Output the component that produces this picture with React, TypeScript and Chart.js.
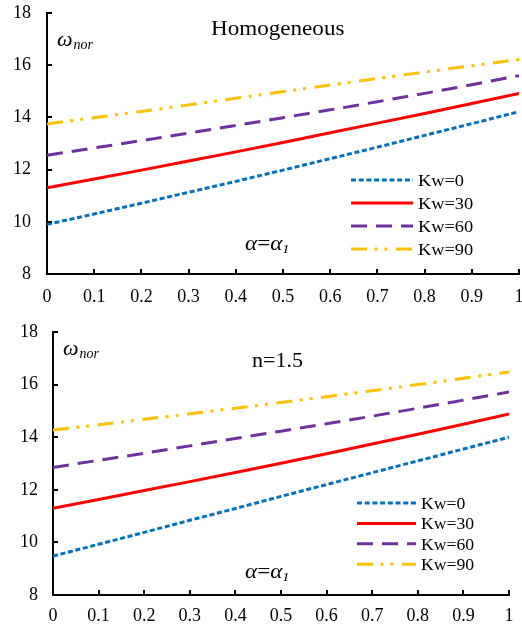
import React, { useEffect, useRef } from 'react';
import { Chart, registerables } from 'chart.js';

Chart.register(...registerables);

// ---------- data ----------
const alphaValues = [0, 0.1, 0.2, 0.3, 0.4, 0.5, 0.6, 0.7, 0.8, 0.9, 1];
const xTickLabels = ['0', '0.1', '0.2', '0.3', '0.4', '0.5', '0.6', '0.7', '0.8', '0.9', '1'];
const yTickValues = [8, 10, 12, 14, 16, 18];
const seriesLabels = ['Kw=0', 'Kw=30', 'Kw=60', 'Kw=90'];

// Homogeneous panel
const homoKw0 = [9.9, 10.3, 10.71, 11.13, 11.55, 11.98, 12.42, 12.86, 13.31, 13.76, 14.22];
const homoKw30 = [11.3, 11.64, 11.98, 12.33, 12.68, 13.04, 13.41, 13.78, 14.15, 14.53, 14.92];
const homoKw60 = [12.55, 12.83, 13.11, 13.4, 13.69, 13.99, 14.29, 14.6, 14.92, 15.25, 15.6];
const homoKw90 = [13.75, 13.99, 14.23, 14.48, 14.73, 14.99, 15.24, 15.49, 15.74, 15.98, 16.22];

// n = 1.5 panel
const fgmKw0 = [9.48, 9.93, 10.38, 10.84, 11.29, 11.75, 12.2, 12.65, 13.1, 13.55, 14.0];
const fgmKw30 = [11.3, 11.63, 11.97, 12.31, 12.66, 13.01, 13.37, 13.74, 14.11, 14.49, 14.88];
const fgmKw60 = [12.85, 13.12, 13.39, 13.67, 13.95, 14.23, 14.51, 14.8, 15.1, 15.41, 15.72];
const fgmKw90 = [14.27, 14.47, 14.68, 14.89, 15.1, 15.32, 15.54, 15.77, 16.0, 16.24, 16.48];

const topTitle = 'Homogeneous';
const bottomTitle = 'n=1.5';

// ---------- styles ----------
const SERIF = "'Liberation Serif', 'Times New Roman', serif";
const COLORS = ['#0070C0', '#FF0000', '#7030A0', '#FFC000'];
const DASHES: number[][] = [[5, 2.7], [], [16, 9], [16, 7.5, 3, 7, 3, 8.5]];
const LINE_W = 3;
const TICK_SIZE = 18;

type PanelCfg = {
  height: number;
  yWidth: number;
  xHeight: number;
  padTop: number;
  padRight: number;
  xPad: number;
  yPad: number;
  series: number[][];
  title: string;
  titleX: number;
  titleY: number;
  titleSize: number;
  titleSx: number;
  omegaX: number;
  omegaY: number;
  alphaX: number;
  alphaY: number;
  legLx1: number;
  legLx2: number;
  legTx: number;
  legY0: number;
  legDy: number;
  legSize: number;
  legSx: number;
};

const topPanel: PanelCfg = {
  height: 310, yWidth: 47, xHeight: 36, padTop: 13, padRight: 3, xPad: 12, yPad: 16,
  series: [homoKw0, homoKw30, homoKw60, homoKw90],
  title: topTitle, titleX: 211, titleY: 35, titleSize: 21, titleSx: 1.1,
  omegaX: 57, omegaY: 46, alphaX: 245, alphaY: 250,
  legLx1: 351, legLx2: 413, legTx: 418, legY0: 180, legDy: 23, legSize: 17, legSx: 1.08,
};

const bottomPanel: PanelCfg = {
  height: 317, yWidth: 53, xHeight: 32, padTop: 22, padRight: 13, xPad: 10, yPad: 15,
  series: [fgmKw0, fgmKw30, fgmKw60, fgmKw90],
  title: bottomTitle, titleX: 252, titleY: 57, titleSize: 22, titleSx: 1.0,
  omegaX: 63, omegaY: 45, alphaX: 245, alphaY: 268,
  legLx1: 357, legLx2: 416, legTx: 421, legY0: 193, legDy: 20.4, legSize: 17, legSx: 1.04,
};

function drawScaledText(ctx: CanvasRenderingContext2D, text: string, x: number, y: number, font: string, sx: number) {
  ctx.save();
  ctx.translate(x, y);
  ctx.scale(sx, 1);
  ctx.font = font;
  ctx.textAlign = 'left';
  ctx.textBaseline = 'alphabetic';
  ctx.fillStyle = '#000';
  ctx.fillText(text, 0, 0);
  ctx.restore();
}

function makeDecorPlugin(cfg: PanelCfg) {
  return {
    id: 'decor',
    afterDraw(chart: any) {
      const ctx: CanvasRenderingContext2D = chart.ctx;
      const { left, bottom } = chart.chartArea;
      const xs = chart.scales.x;
      const ys = chart.scales.y;
      ctx.save();
      // inward tick marks
      ctx.strokeStyle = '#000';
      ctx.lineWidth = 2;
      ctx.setLineDash([]);
      ys.ticks.forEach((t: any) => {
        if (t.value <= ys.min) return;
        const y = Math.round(ys.getPixelForValue(t.value));
        ctx.beginPath();
        ctx.moveTo(left, y);
        ctx.lineTo(left + 5, y);
        ctx.stroke();
      });
      xs.ticks.forEach((t: any) => {
        if (t.value <= xs.min) return;
        const x = Math.round(xs.getPixelForValue(t.value));
        ctx.beginPath();
        ctx.moveTo(x, bottom);
        ctx.lineTo(x, bottom - 5);
        ctx.stroke();
      });

      // title
      drawScaledText(ctx, cfg.title, cfg.titleX, cfg.titleY, `${cfg.titleSize}px ${SERIF}`, cfg.titleSx);

      // omega_nor
      ctx.font = `italic 22px ${SERIF}`;
      ctx.fillStyle = '#000';
      ctx.textBaseline = 'alphabetic';
      ctx.textAlign = 'left';
      ctx.fillText('ω', cfg.omegaX, cfg.omegaY);
      const ow = ctx.measureText('ω').width;
      ctx.font = `italic 14px ${SERIF}`;
      ctx.fillText('nor', cfg.omegaX + ow + 1, cfg.omegaY + 3);

      // alpha = alpha_1
      ctx.save();
      ctx.translate(cfg.alphaX, cfg.alphaY);
      ctx.scale(1.1, 1);
      let cx = 0;
      ctx.font = `italic 21px ${SERIF}`;
      ctx.fillText('α', cx, 0);
      cx += ctx.measureText('α').width;
      ctx.font = `21px ${SERIF}`;
      ctx.fillText('=', cx, 0);
      cx += ctx.measureText('=').width;
      ctx.font = `italic 21px ${SERIF}`;
      ctx.fillText('α', cx, 0);
      cx += ctx.measureText('α').width;
      ctx.font = `italic 13px ${SERIF}`;
      ctx.fillText('1', cx, 3);
      ctx.restore();

      // legend
      seriesLabels.forEach((lab, i) => {
        const y = cfg.legY0 + i * cfg.legDy;
        ctx.save();
        ctx.strokeStyle = COLORS[i];
        ctx.lineWidth = LINE_W;
        ctx.setLineDash(DASHES[i]);
        ctx.beginPath();
        ctx.moveTo(cfg.legLx1, y);
        ctx.lineTo(cfg.legLx2, y);
        ctx.stroke();
        ctx.restore();
        drawScaledText(ctx, lab, cfg.legTx, y + 6, `${cfg.legSize}px ${SERIF}`, cfg.legSx);
      });
      ctx.restore();
    },
  };
}

function buildChart(canvas: HTMLCanvasElement, cfg: PanelCfg) {
  const datasets = cfg.series.map((vals, i) => ({
    label: seriesLabels[i],
    data: alphaValues.map((a, k) => ({ x: a, y: vals[k] })),
    borderColor: COLORS[i],
    backgroundColor: COLORS[i],
    borderWidth: LINE_W,
    borderDash: DASHES[i],
    pointRadius: 0,
    tension: 0,
    fill: false,
  }));

  return new Chart(canvas, {
    type: 'line',
    data: { datasets },
    plugins: [makeDecorPlugin(cfg)],
    options: {
      animation: false,
      responsive: false,
      devicePixelRatio: 1,
      layout: { padding: { top: cfg.padTop, right: cfg.padRight, left: 0, bottom: 0 } },
      plugins: { legend: { display: false }, tooltip: { enabled: false }, title: { display: false } },
      scales: {
        x: {
          type: 'linear',
          min: 0,
          max: 1,
          grid: { display: false, drawTicks: false },
          border: { display: true, color: '#000', width: 2 },
          afterBuildTicks: (scale: any) => {
            scale.ticks = alphaValues.map((v) => ({ value: v }));
          },
          afterFit: (scale: any) => {
            scale.height = cfg.xHeight;
            scale.paddingLeft = 0;
            scale.paddingRight = 0;
          },
          ticks: {
            autoSkip: false,
            maxRotation: 0,
            padding: cfg.xPad,
            color: '#000',
            font: { family: SERIF, size: TICK_SIZE },
            callback: (_v: any, idx: number) => xTickLabels[idx],
          },
        },
        y: {
          type: 'linear',
          min: 8,
          max: 18,
          grid: { display: false, drawTicks: false },
          border: { display: true, color: '#000', width: 2 },
          afterBuildTicks: (scale: any) => {
            scale.ticks = yTickValues.map((v) => ({ value: v }));
          },
          afterFit: (scale: any) => {
            scale.width = cfg.yWidth;
            scale.paddingTop = 0;
            scale.paddingBottom = 0;
          },
          ticks: {
            padding: cfg.yPad,
            color: '#000',
            font: { family: SERIF, size: TICK_SIZE },
            callback: (v: any) => String(v),
          },
        },
      },
    },
  } as any);
}

function Panel({ cfg }: { cfg: PanelCfg }) {
  const ref = useRef<HTMLCanvasElement | null>(null);
  useEffect(() => {
    if (!ref.current) return;
    const chart = buildChart(ref.current, cfg);
    return () => chart.destroy();
  }, [cfg]);
  return <canvas ref={ref} width={522} height={cfg.height} style={{ display: 'block', width: 522, height: cfg.height }} />;
}

export default function App() {
  return (
    <div style={{ position: 'absolute', left: 0, top: 0, width: 522, height: 627, background: '#fff', overflow: 'hidden' }}>
      <Panel cfg={topPanel} />
      <Panel cfg={bottomPanel} />
    </div>
  );
}
